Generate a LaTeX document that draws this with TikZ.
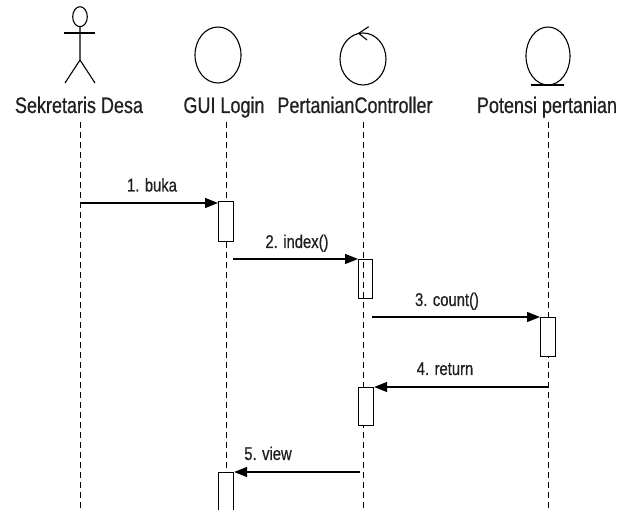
\documentclass[tikz,border=0pt]{standalone}
\usepackage{fontspec}
\setmainfont[FakeStretch=0.8,FakeBold=0.6]{Liberation Sans}
\usetikzlibrary{arrows.meta}
\definecolor{txt}{HTML}{202020}
\begin{document}
\begin{tikzpicture}[x=1pt,y=-1pt,
  hdr/.style={text=txt,font=\fontsize{22.5}{24}\selectfont,inner sep=0pt,anchor=base},
  lbl/.style={text=txt,font=\fontsize{18.5}{20}\selectfont,inner sep=0pt,anchor=base},
  life/.style={line width=1pt,dash pattern=on 6pt off 4pt},
  shp/.style={line width=1.1pt},
  act/.style={draw,line width=1.1pt,fill=white,minimum width=15pt,inner sep=0pt,anchor=north west},
  msg/.style={line width=1.1pt,-{Triangle[length=13pt,width=10pt]}}]
\useasboundingbox (0,0) rectangle (624,510);
% participants
\node[hdr] (sd) at (79,113) {Sekretaris Desa};
\node[hdr] (gui) at (224,113) {GUI Login};
\node[hdr] (pc) at (355,113) {PertanianController};
\node[hdr] (pp) at (547,113) {Potensi pertanian};
% actor
\draw[shp] (80,16.7) ellipse (7.3 and 10);
\draw[shp] (64,33) -- (95,33);
\draw[shp] (80,26.7) -- (80,60) -- (65,83);
\draw[shp] (80,60) -- (95,83);
% boundary-ish circles
\draw[shp] (218,55) ellipse (23 and 28);
\draw[shp] (363,59) ellipse (23 and 26);
\draw[shp] (358.7,33.3) -- (368.7,26.7);
\draw[shp] (358.7,33.3) -- (367,40);
\draw[shp] (548,56) ellipse (22 and 29);
\draw[shp] (531,85) -- (564,85);
% lifelines
\coordinate (sdt) at (80,122); \coordinate (sdb) at (80,510);
\coordinate (guit) at (226,122); \coordinate (guib) at (226,510);
\coordinate (pct) at (363,122); \coordinate (pcb) at (363,510);
\coordinate (ppt) at (548,122); \coordinate (ppb) at (548,510);
\draw[life] (sdt) -- (sdb);
\draw[life] (guit) -- (guib);
\draw[life] (pct) -- (pcb);
\draw[life] (ppt) -- (ppb);
% activations
\node[act,minimum height=40pt] (a1) at (218,201) {};
\node[draw,line width=1.1pt,minimum width=14pt,minimum height=39pt,inner sep=0pt,anchor=north west] (a2) at (358,259) {};
\node[act,minimum height=39pt] (a3) at (540,317) {};
\node[act,minimum height=38pt] (a4) at (358,387) {};
\node[act,minimum height=40pt] (a5) at (218,472) {};
% messages
\coordinate (m1s) at (80,203);
\draw[msg] (m1s) -- (a1.west |- m1s);
\node[lbl] (l1) at (152,191.5) {1. buka};
\coordinate (m2s) at (233,259);
\draw[msg] (m2s) -- (a2.west |- m2s);
\node[lbl] (l2) at (297,248) {2. index()};
\coordinate (m3s) at (372,317);
\draw[msg] (m3s) -- (a3.west |- m3s);
\node[lbl] (l3) at (447,306) {3. count()};
\coordinate (m4s) at (548,387);
\draw[msg] (m4s) -- (a4.east |- m4s);
\node[lbl] (l4) at (445,375) {4. return};
\coordinate (m5s) at (360,472);
\draw[msg] (m5s) -- (a5.east |- m5s);
\node[lbl] (l5) at (268,460) {5. view};
\end{tikzpicture}
\end{document}
